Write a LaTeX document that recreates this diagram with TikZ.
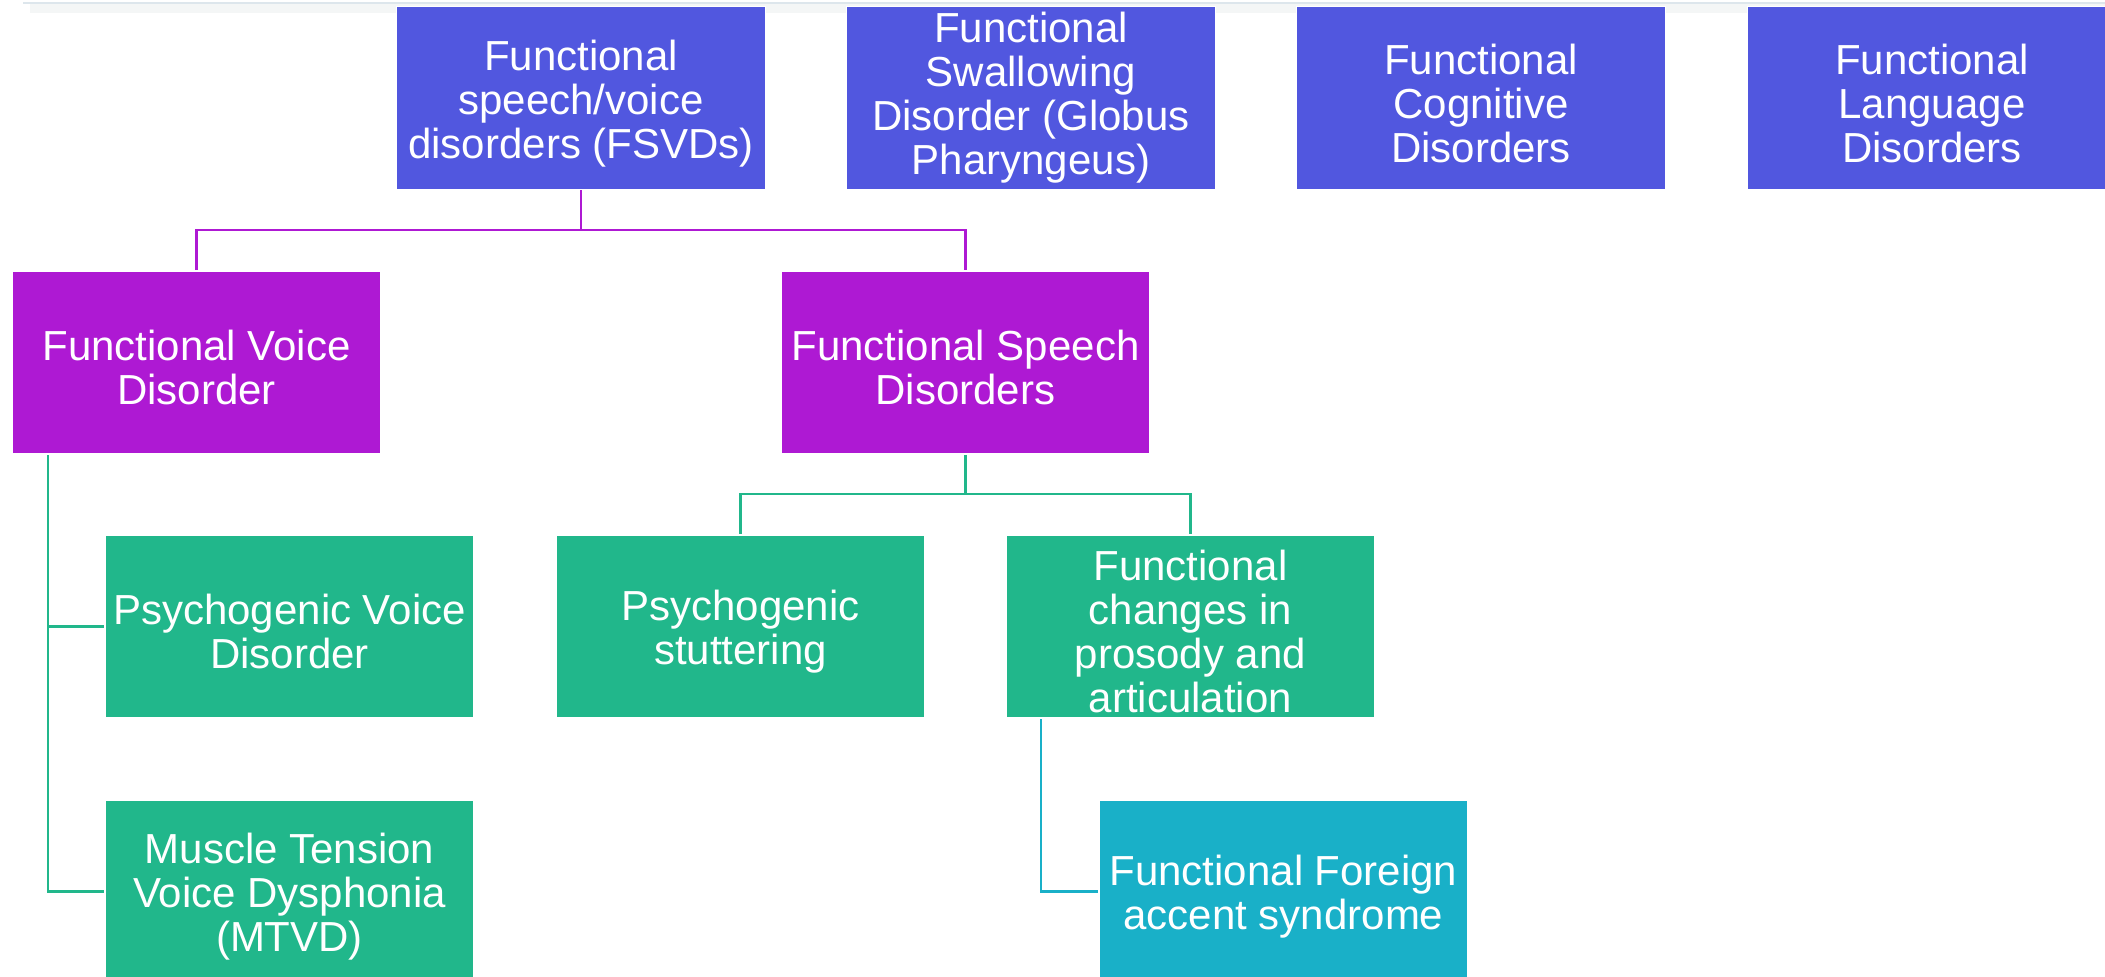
\documentclass[tikz,border=0pt]{standalone}
\usepackage{fontspec}
\setmainfont{Liberation Sans}
\definecolor{topblue}{HTML}{5157DF}
\definecolor{midpurple}{HTML}{AE19D3}
\definecolor{leafgreen}{HTML}{21B78B}
\definecolor{leafteal}{HTML}{19B0C8}
\definecolor{stripline}{HTML}{DDE6EC}
\definecolor{stripshade}{HTML}{F4F6F6}
% strut that lowers a box's text block slightly
\newcommand\toplift{\rule{0pt}{41pt}}
\begin{document}
\begin{tikzpicture}[x=1pt,y=-1pt,
  box/.style={rectangle, draw=white, line width=1.5pt, minimum width=369pt,
    minimum height=183pt, inner sep=2pt, align=center, text=white,
    font=\fontsize{42}{44}\selectfont},
  lvl1/.style={box, fill=topblue},
  lvl2/.style={box, fill=midpurple},
  lvl3/.style={box, fill=leafgreen},
  lvl4/.style={box, fill=leafteal},
  linkpurple/.style={draw=midpurple, line width=2.5pt},
  linkgreen/.style={draw=leafgreen, line width=2.5pt},
  linkteal/.style={draw=leafteal, line width=2.5pt}]
\useasboundingbox (0,0) rectangle (2105,977);
\clip (0,0) rectangle (2105,977);
\fill[white] (0,0) rectangle (2105,977);

% faint card edge along the top
\fill[stripshade] (30,4) rectangle (2105,13);
\draw[stripline, line width=2pt] (23,3) -- (2105,3);

% top level
\node[lvl1] (fsvd) at (581,98) {\toplift Functional\\speech/voice\\disorders (FSVDs)};
\node[lvl1] (swallow) at (1031,98) {Functional\\Swallowing\\Disorder (Globus\\Pharyngeus)};
\node[lvl1] (cognitive) at (1481,98) {\toplift Functional\\Cognitive\\Disorders};
\node[lvl1] (language) at (1932,98) {\toplift Functional\\Language\\Disorders};

% second level
\node[lvl2] (fvd) at (196.5,362.5) {\toplift Functional Voice\\Disorder};
\node[lvl2] (fsd) at (965.5,362.5) {\toplift Functional Speech\\Disorders};

% third level
\node[lvl3] (pvd) at (289.5,626.5) {\toplift Psychogenic Voice\\Disorder};
\node[lvl3] (stut) at (740.5,626.5) {\toplift Psychogenic\\stuttering};
\node[lvl3] (prosody) at (1190.5,626.5) {\toplift Functional\\changes in\\prosody and\\articulation};
\node[lvl3] (mtvd) at (289.5,891.5) {\toplift Muscle Tension\\Voice Dysphonia\\(MTVD)};
\node[lvl4] (ffas) at (1283.5,891.5) {\toplift Functional Foreign\\accent syndrome};

% connectors
\coordinate (j1) at (581,230);
\draw[linkpurple] (fsvd.south) -- (j1) -| (fvd.north);
\draw[linkpurple] (j1) -| (fsd.north);

\coordinate (fvdbar) at (48,455);
\draw[linkgreen] (fvdbar) |- (mtvd.west);
\draw[linkgreen] (fvdbar |- pvd.west) -- (pvd.west);

\coordinate (j2) at (965.5,494);
\draw[linkgreen] (fsd.south) -- (j2) -| (stut.north);
\draw[linkgreen] (j2) -| (prosody.north);

\coordinate (p1) at (1041,719);
\draw[linkteal] (p1) |- (ffas.west);
\end{tikzpicture}
\end{document}
